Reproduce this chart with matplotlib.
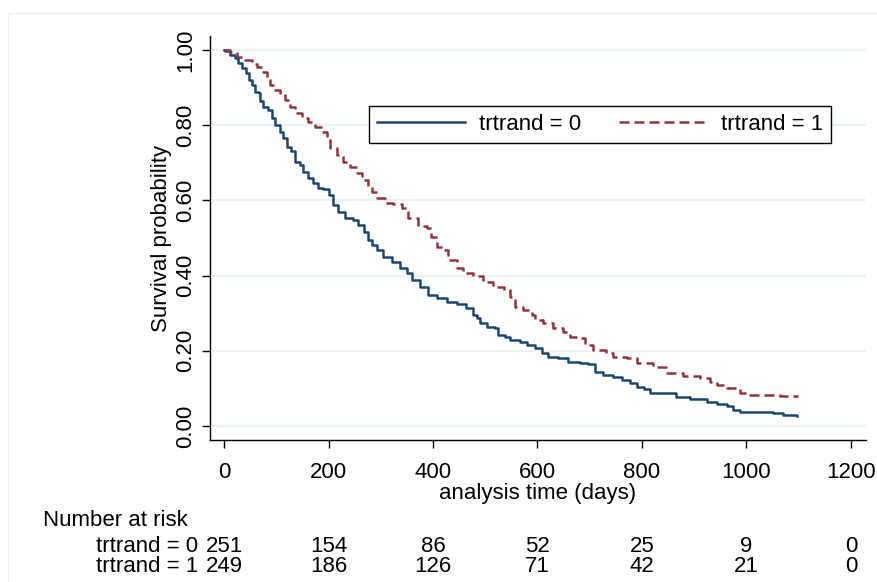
import matplotlib.pyplot as plt
import matplotlib.transforms as mtransforms
from matplotlib.patches import Rectangle

plt.rcParams["font.family"] = ["Liberation Sans", "DejaVu Sans"]

# Kaplan-Meier estimates (time in days, survival)
t0 = [0, 2, 11, 21, 27, 34, 42, 47, 53, 59, 66, 69, 75, 85, 91, 98, 107, 113,
      120, 128, 136, 145, 152, 161, 171, 180, 190, 200, 209, 219, 232, 247,
      257, 267, 276, 283, 292, 305, 321, 337, 350, 359, 375, 391, 407, 426,
      445, 464, 477, 484, 490, 503, 519, 525, 538, 547, 567, 579, 595, 608,
      621, 640, 659, 681, 697, 710, 726, 745, 761, 777, 790, 803, 815, 847,
      866, 892, 924, 943, 962, 975, 988, 1051, 1071, 1096]
s0 = [1.0, 0.997, 0.987, 0.978, 0.965, 0.951, 0.938, 0.92, 0.907, 0.889,
      0.885, 0.863, 0.849, 0.84, 0.818, 0.801, 0.783, 0.765, 0.743, 0.73,
      0.703, 0.694, 0.676, 0.659, 0.645, 0.634, 0.63, 0.614, 0.588, 0.57,
      0.552, 0.548, 0.535, 0.517, 0.495, 0.481, 0.468, 0.45, 0.437, 0.419,
      0.406, 0.388, 0.371, 0.348, 0.34, 0.331, 0.324, 0.313, 0.295, 0.286,
      0.273, 0.263, 0.26, 0.242, 0.238, 0.229, 0.224, 0.215, 0.207, 0.193,
      0.183, 0.18, 0.171, 0.167, 0.165, 0.144, 0.136, 0.131, 0.122, 0.114,
      0.105, 0.098, 0.089, 0.087, 0.078, 0.071, 0.065, 0.059, 0.053, 0.044,
      0.038, 0.035, 0.029, 0.027]

t1 = [0, 11, 24, 37, 53, 63, 72, 82, 88, 94, 107, 117, 126, 136, 149, 161,
      174, 187, 197, 203, 216, 228, 241, 254, 264, 276, 283, 292, 308, 324,
      340, 353, 372, 388, 397, 407, 417, 429, 445, 458, 477, 496, 515, 535,
      547, 557, 573, 589, 595, 611, 630, 649, 662, 681, 691, 707, 732, 745,
      771, 790, 822, 847, 879, 911, 930, 943, 962, 988, 1007, 1064, 1096]
s1 = [1.0, 0.995, 0.982, 0.973, 0.962, 0.955, 0.942, 0.925, 0.907, 0.894,
      0.885, 0.867, 0.849, 0.832, 0.818, 0.809, 0.796, 0.781, 0.761, 0.739,
      0.721, 0.703, 0.69, 0.672, 0.654, 0.637, 0.623, 0.606, 0.594, 0.59,
      0.579, 0.552, 0.532, 0.526, 0.503, 0.477, 0.468, 0.441, 0.419, 0.406,
      0.4, 0.384, 0.37, 0.362, 0.344, 0.317, 0.309, 0.295, 0.282, 0.273,
      0.262, 0.251, 0.238, 0.233, 0.215, 0.202, 0.193, 0.184, 0.18, 0.168,
      0.158, 0.14, 0.133, 0.127, 0.118, 0.109, 0.1, 0.089, 0.082, 0.08, 0.076]

risk_times = [0, 200, 400, 600, 800, 1000, 1200]
risk0 = [251, 154, 86, 52, 25, 9, 0]
risk1 = [249, 186, 126, 71, 42, 21, 0]
groups = ["trtrand = 0", "trtrand = 1"]

blue = "#1a476f"
red = "#90353b"
fs = 16

fig = plt.figure(figsize=(8.77, 5.82), dpi=100)
fig.patches.append(Rectangle((8 / 877, -0.01), 1.0, 1 - 13 / 582 + 0.01,
                             transform=fig.transFigure, fill=False,
                             edgecolor="#eeeeee", linewidth=0.8))
ax = fig.add_axes([210 / 877, 1 - 440 / 582, 656 / 877, 404 / 582])

ax.step(t0, s0, where="post", color=blue, lw=1.8, label=groups[0], zorder=3)
ax.step(t1, s1, where="post", color=red, lw=1.8, dashes=(4, 2),
        label=groups[1], zorder=3)

ax.set_xlim(-27, 1229)
ax.set_ylim(-0.037, 1.037)
ax.set_xticks(risk_times)
ax.set_yticks([0, 0.2, 0.4, 0.6, 0.8, 1.0])
ax.set_yticklabels(["0.00", "0.20", "0.40", "0.60", "0.80", "1.00"],
                   rotation=90, va="center")
ax.grid(axis="y", color="#eaf2f3", lw=1.6)
ax.set_axisbelow(True)
for s in ["top", "right"]:
    ax.spines[s].set_visible(False)
for s in ["left", "bottom"]:
    ax.spines[s].set_linewidth(1.0)
ax.tick_params(labelsize=fs, length=6, width=1.0)
ax.tick_params(axis="x", pad=10)
ax.tick_params(axis="y", pad=4)
ax.set_xlabel("analysis time (days)", fontsize=fs, labelpad=0)
ax.set_ylabel("Survival probability", fontsize=fs, labelpad=2)

leg = ax.legend(loc="upper left", bbox_to_anchor=(0.242, 0.826), ncol=2,
                fontsize=fs, frameon=True, fancybox=False, edgecolor="black",
                framealpha=1, handlelength=4.0, handletextpad=0.6,
                columnspacing=1.7, borderpad=0.35, borderaxespad=0)
leg.get_frame().set_linewidth(1.0)

# number at risk table
tr = mtransforms.blended_transform_factory(ax.transData, fig.transFigure)
fig.text(43 / 877, 1 - 521 / 582, "Number at risk", fontsize=fs,
         ha="left", va="center")
for lab, vals, ypx in [(groups[0], risk0, 546), (groups[1], risk1, 566)]:
    y = 1 - ypx / 582
    fig.text(198 / 877, y, lab, fontsize=fs, ha="right", va="center")
    for t, v in zip(risk_times, vals):
        ax.text(t, y, str(v), transform=tr, fontsize=fs, ha="center",
                va="center")

fig.savefig("out.png", dpi=100)
